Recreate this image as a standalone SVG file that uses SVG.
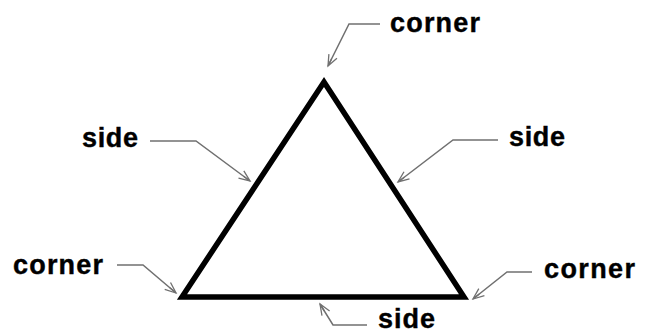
<svg xmlns="http://www.w3.org/2000/svg" width="652" height="335" viewBox="0 0 652 335">
<style>
.lbl{font-family:"Liberation Sans",Arial,sans-serif;font-weight:bold;font-size:27px;fill:#000;stroke:#000;stroke-width:0.4}
.lead{fill:none;stroke:#707070;stroke-width:1.5}
</style>
<defs>
<marker id="ah" markerWidth="14" markerHeight="12" refX="12" refY="6" orient="auto" markerUnits="userSpaceOnUse">
<path d="M1,1.5 L12,6 L1,10.5 M4,6 L12,6" fill="none" stroke="#707070" stroke-width="1.3"/>
</marker>
</defs>
<rect width="652" height="335" fill="#fff"/>
<g id="triangle">
<polygon points="324,82 182,297 464,297" fill="none" stroke="#000" stroke-width="5.5" stroke-linejoin="miter"/>
</g>
<g id="connectors">
<path class="lead" d="M380,24 L349,24 L328,66" marker-end="url(#ah)"/>
<path class="lead" d="M150,141 L196,141 L250,181" marker-end="url(#ah)"/>
<path class="lead" d="M498,140 L453,140 L398,182" marker-end="url(#ah)"/>
<path class="lead" d="M117,265 L143,265 L176,293" marker-end="url(#ah)"/>
<path class="lead" d="M532,272 L507,272 L473,299" marker-end="url(#ah)"/>
<path class="lead" d="M367,325 L333,325 L320,304" marker-end="url(#ah)"/>
</g>
<g id="label-corner-top"><text class="lbl" x="390" y="32" textLength="90" lengthAdjust="spacing">corner</text></g>
<g id="label-side-left"><text class="lbl" x="82" y="147" textLength="56" lengthAdjust="spacing">side</text></g>
<g id="label-side-right"><text class="lbl" x="509" y="146" textLength="56" lengthAdjust="spacing">side</text></g>
<g id="label-corner-left"><text class="lbl" x="13" y="274" textLength="90" lengthAdjust="spacing">corner</text></g>
<g id="label-corner-right"><text class="lbl" x="544" y="278" textLength="91" lengthAdjust="spacing">corner</text></g>
<g id="label-side-bottom"><text class="lbl" x="378" y="328" textLength="57" lengthAdjust="spacing">side</text></g>
</svg>
